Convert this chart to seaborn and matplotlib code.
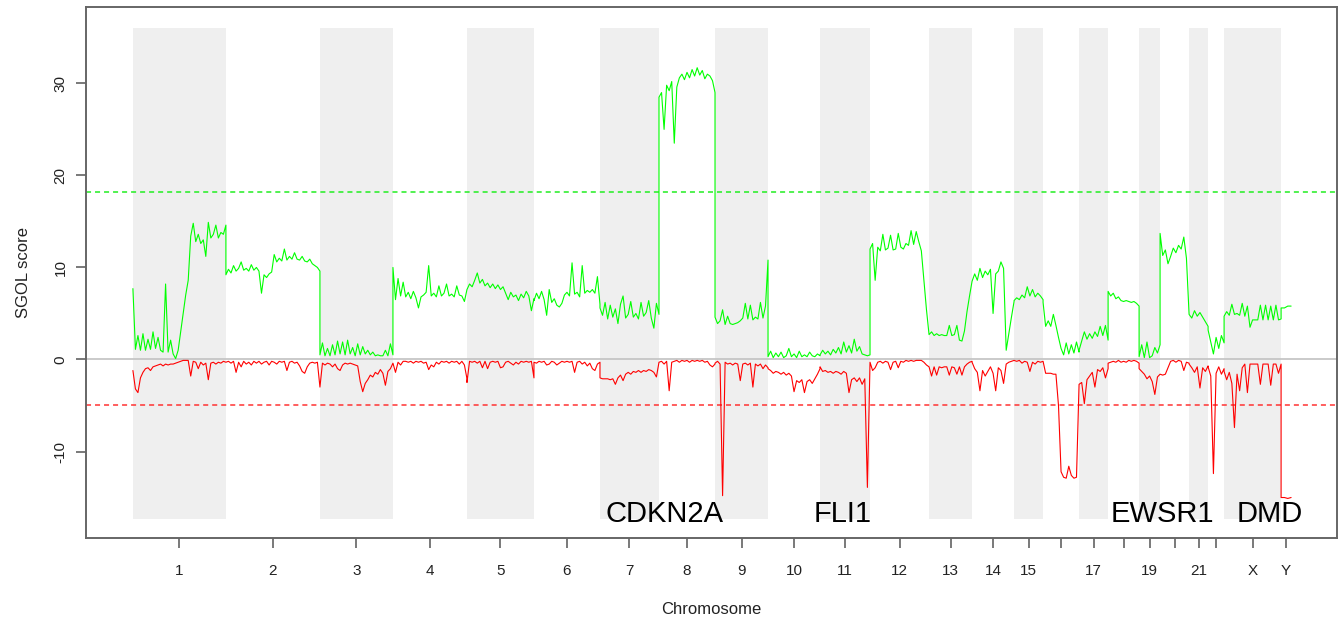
import numpy as np
import matplotlib
matplotlib.use("Agg")
import matplotlib.pyplot as plt
import seaborn as sns

#Cromosomas, limites en Mb y etiquetas del eje X
cromosomas = ['1', '2', '3', '4', '5', '6', '7', '8', '9', '10', '11', '12',
              '13', '14', '15', '16', '17', '18', '19', '20', '21', '22', 'X', 'Y']
limites = [0, 246.0, 494.7, 687.8, 883.6, 1060.8, 1235.4, 1391.5, 1539.7, 1679.9,
           1817.5, 1949.7, 2105.8, 2219.6, 2330.7, 2407.4, 2502.6, 2579.4, 2661.4,
           2716.9, 2793.6, 2843.9, 2886.2, 3037.0, 3063.5]
etiquetas = ['1', '2', '3', '4', '5', '6', '7', '8', '9', '10', '11', '12',
             '13', '14', '15', '', '17', '', '19', '', '21', '', 'X', 'Y']

#Umbrales
umbral_ganancia = 18.2
umbral_perdida = -5.0

#Genes marcados
genes = ['CDKN2A', 'FLI1', 'EWSR1', 'DMD']
genes_x = [1405, 1878, 2724, 3007]

#Puntuacion SGOL de ganancia (verde) por cromosoma
gain_1 = [7.7, 1.1, 2.6, 1.0, 2.8, 1.0, 2.2, 1.1, 3.0, 1.2,
          2.4, 1.0, 0.8, 8.2, 0.8, 2.1, 0.6, 0.1, 1.0, 3.0,
          5.0, 7.0, 8.6, 13.4, 14.8, 12.8, 13.6, 12.6, 13.0, 11.2,
          14.9, 13.2, 13.6, 14.6, 13.2, 13.8, 13.6, 14.6]
gain_2 = [9.2, 9.8, 9.4, 10.2, 9.6, 9.9, 10.6, 9.7, 9.9, 9.6,
          10.3, 9.7, 10.0, 9.6, 7.2, 9.2, 8.9, 9.3, 9.5, 11.4,
          10.6, 11.0, 10.7, 12.0, 10.8, 11.2, 10.9, 11.6, 10.9, 10.8,
          11.2, 10.7, 10.6, 10.9, 10.4, 10.2, 10.0, 9.6]
gain_3 = [0.5, 1.8, 0.4, 1.2, 0.4, 1.6, 0.5, 2.0, 0.6, 1.9,
          0.5, 2.1, 0.6, 1.3, 0.4, 1.7, 0.5, 1.4, 0.6, 1.0,
          0.5, 0.8, 0.4, 0.5, 0.4, 0.4, 1.0, 0.4, 1.7, 0.5]
gain_4 = [10.0, 6.5, 8.8, 6.9, 8.4, 6.8, 7.3, 6.6, 7.4, 6.7,
          5.6, 6.8, 7.0, 7.3, 10.2, 6.9, 7.2, 6.8, 8.0, 6.9,
          7.2, 8.2, 6.9, 7.1, 6.8, 8.0, 7.0, 6.9, 6.3, 7.6]
gain_5 = [7.6, 8.2, 7.9, 8.6, 9.4, 8.3, 8.7, 8.0, 8.3, 7.8,
          8.2, 7.7, 8.1, 7.6, 7.9, 7.2, 6.5, 7.3, 6.8, 7.0,
          6.4, 7.1, 6.7, 7.4, 6.9, 5.3, 6.6]
gain_6 = [6.4, 7.2, 6.6, 7.4, 6.5, 4.8, 7.6, 6.2, 6.6, 5.9,
          5.7, 6.1, 7.0, 7.3, 6.9, 10.5, 7.1, 7.3, 6.8, 10.2,
          7.2, 7.5, 7.3, 7.6, 7.2, 9.0, 6.0]
gain_7 = [5.6, 4.8, 6.2, 4.4, 5.9, 4.6, 5.5, 3.9, 6.0, 6.9,
          4.5, 4.9, 6.3, 4.6, 5.0, 4.4, 6.2, 4.7, 5.1, 6.4,
          4.5, 3.4, 6.1, 4.9]
gain_8 = [28.5, 29.0, 25.0, 29.8, 29.2, 30.2, 23.5, 29.6, 30.6, 31.0,
          30.4, 31.2, 30.6, 31.5, 30.8, 31.7, 30.9, 31.4, 30.5, 31.0,
          30.8, 30.3, 29.0]
gain_9 = [4.6, 3.9, 4.2, 5.4, 3.8, 4.7, 3.9, 3.8, 3.9, 4.0,
          4.2, 4.5, 6.1, 4.4, 5.9, 4.3, 4.6, 4.4, 6.2, 4.5,
          5.8, 10.8]
gain_10 = [0.3, 0.9, 0.2, 0.7, 0.3, 0.8, 0.2, 0.4, 1.2, 0.3,
           0.6, 0.2, 0.9, 0.3, 0.5, 0.3, 0.8, 0.4, 0.3, 0.6, 0.4]
gain_11 = [0.5, 1.0, 0.6, 0.9, 0.5, 1.1, 0.7, 1.3, 0.6, 1.9,
           0.8, 1.5, 0.7, 2.2, 0.9, 1.4, 0.6, 0.5, 0.4, 0.5]
gain_12 = [12.0, 12.6, 8.6, 12.2, 11.8, 13.6, 11.9, 12.1, 13.5, 11.9,
           12.0, 13.7, 12.2, 12.0, 12.6, 12.4, 14.0, 12.5, 13.9, 12.8,
           11.8, 8.6, 5.4, 2.7]
gain_13 = [2.7, 3.0, 2.6, 2.8, 2.6, 2.7, 2.6, 2.6, 3.7, 2.6,
           2.7, 3.7, 2.1, 2.0, 3.1, 5.2, 6.9, 8.5]
gain_14 = [8.5, 9.3, 8.6, 9.9, 8.9, 9.6, 9.2, 9.8, 5.0, 9.3,
           9.6, 10.6, 9.9, 1.0, 2.8, 4.6, 6.3]
gain_15 = [6.4, 6.7, 6.5, 7.0, 6.7, 7.9, 6.9, 7.6, 6.8, 7.2, 6.9, 6.5]
gain_16 = [6.2, 3.6, 4.2, 3.6, 4.9, 3.7, 2.4, 1.2, 0.5, 1.8,
           0.6, 1.6, 0.7, 1.9, 0.8]
gain_17 = [1.0, 2.0, 3.0, 2.2, 2.8, 2.3, 3.0, 2.5, 3.6, 2.6, 3.7, 2.1]
gain_18 = [7.4, 6.9, 7.2, 6.6, 6.8, 6.4, 6.3, 6.4, 6.3, 6.2, 6.3, 6.1, 5.8]
gain_19 = [0.3, 1.6, 0.2, 1.9, 0.2, 0.4, 1.3, 0.7, 1.6]
gain_20 = [13.7, 11.3, 11.9, 10.4, 11.2, 12.1, 11.6, 12.4, 12.0, 13.3, 11.0, 5.0]
gain_21 = [4.9, 4.5, 5.3, 4.7, 5.1, 4.6, 4.1, 3.6]
gain_22 = [3.2, 1.9, 0.6, 2.4, 1.2, 2.6, 1.8]
gain_X = [4.7, 5.2, 4.8, 6.0, 4.9, 5.0, 4.8, 6.1, 4.7, 5.8,
          3.5, 4.3, 4.3, 4.3, 5.9, 4.3, 5.9, 4.3, 5.8, 4.3,
          5.9, 4.3, 4.4]
gain_Y = [5.6, 5.6, 5.8, 5.8]

#Puntuacion SGOL de perdida (rojo) por cromosoma
loss_1 = [-1.2, -3.2, -3.6, -2.0, -1.4, -1.0, -0.9, -1.2, -0.8, -0.7,
          -0.6, -0.5, -0.7, -0.5, -0.6, -0.5, -0.5, -0.4, -0.3, -0.2,
          -0.1, -0.1, -0.1, -1.8, -0.2, -0.3, -1.0, -0.3, -0.6, -0.4,
          -2.2, -0.4, -0.3, -0.5, -0.3, -0.4, -0.2, -0.3]
loss_2 = [-0.3, -0.2, -0.4, -0.2, -1.4, -0.3, -0.8, -0.2, -0.5, -0.3,
          -0.6, -0.2, -0.4, -0.2, -0.5, -0.3, -0.2, -0.6, -0.2, -0.3,
          -0.5, -0.2, -0.3, -0.2, -1.2, -0.3, -0.2, -0.4, -0.3, -0.7,
          -1.3, -1.5, -0.8, -0.4, -0.3, -0.4, -0.3, -3.0]
loss_3 = [-3.0, -0.4, -0.6, -0.4, -0.5, -0.8, -0.5, -1.0, -1.2, -0.6,
          -0.4, -0.5, -0.4, -0.5, -0.6, -0.7, -2.4, -3.5, -2.6, -2.2,
          -1.7, -1.9, -1.4, -1.6, -1.1, -1.5, -2.8, -1.3, -1.0, -0.4]
loss_4 = [-0.4, -1.4, -0.3, -0.6, -0.2, -0.2, -0.3, -0.2, -0.4, -0.2,
          -0.3, -0.2, -0.4, -0.3, -1.1, -0.6, -0.8, -0.3, -0.5, -0.2,
          -0.3, -0.2, -0.4, -0.2, -0.3, -0.2, -0.5, -0.2, -0.6, -2.1]
loss_5 = [-2.5, -0.2, -0.3, -0.2, -0.4, -0.2, -0.9, -0.2, -1.0, -0.3,
          -0.2, -0.3, -0.2, -0.9, -0.8, -0.3, -0.2, -0.4, -0.6, -0.3,
          -0.5, -0.2, -0.3, -0.2, -0.3, -0.2, -2.0]
loss_6 = [-0.3, -0.4, -0.2, -0.3, -0.2, -0.6, -0.5, -0.2, -0.3, -0.6,
          -0.4, -0.2, -0.3, -0.2, -0.3, -0.2, -1.4, -0.3, -0.2, -0.5,
          -0.3, -0.7, -0.4, -1.0, -1.2, -0.5, -0.3]
loss_7 = [-2.0, -2.1, -2.1, -2.1, -2.2, -2.1, -2.7, -2.0, -1.7, -2.3,
          -1.6, -1.4, -1.6, -1.3, -1.4, -1.2, -1.4, -1.2, -1.3, -1.1,
          -1.2, -1.4, -1.9, -0.3]
loss_8 = [-0.3, -0.2, -0.5, -0.2, -3.4, -0.3, -0.2, -0.1, -0.3, -0.1,
          -0.2, -0.1, -0.3, -0.1, -0.2, -0.1, -0.2, -0.1, -0.3, -0.2,
          -0.6, -0.8, -0.5]
loss_9 = [-0.4, -0.2, -0.5, -14.8, -0.3, -0.5, -0.4, -0.6, -0.4, -0.5,
          -2.3, -0.5, -0.4, -0.6, -0.4, -3.0, -0.5, -0.7, -0.5, -1.0,
          -0.6, -0.9]
loss_10 = [-1.0, -1.2, -1.5, -1.3, -1.4, -1.6, -1.4, -1.7, -1.5, -1.8,
           -3.5, -2.3, -2.5, -2.2, -3.6, -2.4, -2.2, -2.6, -2.1, -1.6, -1.0]
loss_11 = [-0.8, -1.3, -1.2, -1.4, -1.3, -1.5, -1.3, -1.4, -1.6, -1.3,
           -1.5, -3.6, -2.2, -2.0, -2.4, -2.0, -2.7, -2.1, -13.9, -0.4]
loss_12 = [-0.3, -1.2, -0.9, -0.3, -0.2, -0.4, -0.2, -0.3, -1.1, -0.3,
           -0.2, -0.9, -0.2, -0.3, -0.1, -0.2, -0.1, -0.2, -0.1, -0.1,
           -0.1, -0.3, -0.6, -0.8]
loss_13 = [-0.8, -1.8, -0.8, -1.7, -0.8, -0.9, -0.8, -0.8, -1.7, -0.8,
           -0.9, -1.6, -0.8, -1.7, -0.8, -0.5, -0.3, -0.2]
loss_14 = [-0.3, -1.0, -1.4, -3.4, -1.2, -1.8, -1.3, -0.8, -1.5, -3.4,
           -0.9, -1.2, -2.6, -0.5, -0.3, -0.2, -0.1]
loss_15 = [-0.1, -0.2, -0.1, -0.4, -0.2, -0.3, -1.3, -0.3, -0.5, -0.2, -0.3, -0.2]
loss_16 = [-0.2, -1.5, -1.5, -1.5, -1.6, -1.6, -5.0, -12.2, -12.8, -12.9,
           -11.6, -12.6, -12.9, -12.8, -2.7]
loss_17 = [-2.7, -2.5, -4.8, -2.2, -1.8, -1.4, -3.0, -1.1, -1.3, -0.9, -2.0, -1.0]
loss_18 = [-0.4, -0.3, -0.2, -0.3, -0.1, -0.3, -0.2, -0.3, -0.1, -0.2, -0.1, -0.2, -0.4]
loss_19 = [-1.0, -1.3, -1.6, -2.1, -1.8, -2.4, -3.8, -1.9, -1.6]
loss_20 = [-1.6, -1.7, -1.6, -0.9, -0.2, -0.1, -0.3, -0.1, -0.2, -1.2, -0.3, -0.4]
loss_21 = [-0.5, -0.9, -1.4, -0.8, -3.1, -0.9, -1.3, -0.7]
loss_22 = [-0.8, -1.8, -12.4, -1.5, -0.8, -1.6, -1.0]
loss_X = [-1.3, -2.2, -1.4, -2.6, -7.4, -1.6, -3.4, -0.9, -0.5, -3.6,
          -0.5, -0.5, -0.5, -0.5, -2.7, -0.5, -0.5, -0.5, -2.8, -0.5,
          -0.5, -1.5, -0.5]
loss_Y = [-15.0, -15.0, -15.1, -15.0]

gain = [gain_1, gain_2, gain_3, gain_4, gain_5, gain_6, gain_7, gain_8,
        gain_9, gain_10, gain_11, gain_12, gain_13, gain_14, gain_15, gain_16,
        gain_17, gain_18, gain_19, gain_20, gain_21, gain_22, gain_X, gain_Y]
loss = [loss_1, loss_2, loss_3, loss_4, loss_5, loss_6, loss_7, loss_8,
        loss_9, loss_10, loss_11, loss_12, loss_13, loss_14, loss_15, loss_16,
        loss_17, loss_18, loss_19, loss_20, loss_21, loss_22, loss_X, loss_Y]

#Posiciones de cada punto dentro de su cromosoma
gx, gy, lx, ly = [], [], [], []
for i in range(len(cromosomas)):
    gx.extend(np.linspace(limites[i], limites[i + 1], len(gain[i])))
    gy.extend(gain[i])
    lx.extend(np.linspace(limites[i], limites[i + 1], len(loss[i])))
    ly.extend(loss[i])

centros = [(limites[i] + limites[i + 1]) / 2 for i in range(len(cromosomas))]

sns.set_style("white")
plt.rcParams['font.family'] = ['Liberation Sans', 'DejaVu Sans']

fig = plt.figure(figsize=(13.4, 6.24), dpi=100)
ax = fig.add_axes([0.0642, 0.1378, 0.9336, 0.851])

#Bandas grises en cromosomas impares
for i in range(0, len(cromosomas) - 1, 2):
    ax.fill_between([limites[i], limites[i + 1]], -17.3, 36.0, color='#efefef', lw=0, zorder=0)

ax.axhline(0, color='#c6c6c6', lw=1.3, zorder=1)
ax.axhline(umbral_ganancia, color='#22ee22', lw=1.1, dashes=(3.3, 2.6), zorder=1)
ax.axhline(umbral_perdida, color='#ff3333', lw=1.1, dashes=(3.3, 2.6), zorder=1)

sns.lineplot(x=gx, y=gy, color='#00ff00', lw=0.8, estimator=None, sort=False, ax=ax, zorder=3)
sns.lineplot(x=lx, y=ly, color='#ff0000', lw=0.8, estimator=None, sort=False, ax=ax, zorder=3)

for nombre, x in zip(genes, genes_x):
    ax.text(x, -17.66, nombre, fontsize=21, ha='center', va='baseline', color='black', zorder=4)

ax.set_xlim(-124, 3185)
ax.set_ylim(-19.4, 38.3)
ax.set_xticks(centros)
ax.set_xticklabels(etiquetas)
ax.set_yticks([-10, 0, 10, 20, 30])
ax.set_yticklabels(['-10', '0', '10', '20', '30'], rotation=90, va='center')

ax.tick_params(axis='both', which='both', direction='out', length=7.2, width=1.1,
               color='#555555', labelsize=11, labelcolor='#222222', bottom=True, left=True)
ax.tick_params(axis='x', pad=11.5)
ax.tick_params(axis='y', pad=6)

for s in ax.spines.values():
    s.set_color('#666666')
    s.set_linewidth(1.4)

ax.set_xlabel('Chromosome', fontsize=12, color='#222222', labelpad=17)
ax.set_ylabel('SGOL score', fontsize=12, color='#222222', labelpad=16)

plt.savefig('out.png', dpi=100)
